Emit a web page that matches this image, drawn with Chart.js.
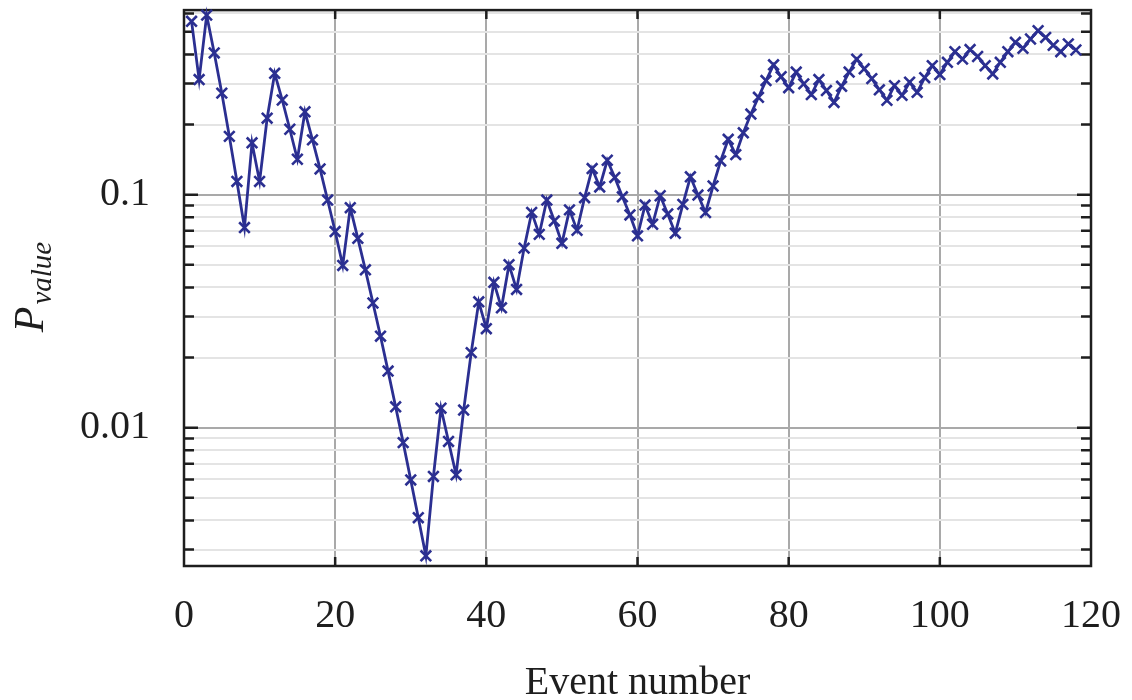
<!DOCTYPE html>
<html>
<head>
<meta charset="utf-8">
<title>P value by event number</title>
<script src="https://cdn.jsdelivr.net/npm/chart.js@4/dist/chart.umd.min.js"></script>
<style>
  html, body { margin: 0; padding: 0; background: #fff; }
  #wrap { width: 1132px; height: 700px; }
</style>
</head>
<body>
<div id="wrap"><canvas id="myChart" width="1132" height="700"></canvas></div>
<script>
// p-value after each event (event 1 .. 118)
const pValues = [
    0.555, 0.312, 0.590, 0.406, 0.273, 0.178, 0.114, 0.0723, 0.167, 0.114,
    0.213, 0.332, 0.255, 0.191, 0.142, 0.227, 0.172, 0.129, 0.0949, 0.0695,
    0.0497, 0.0880, 0.0650, 0.0476, 0.0343, 0.0247, 0.0175, 0.0123, 0.00863, 0.00597,
    0.00411, 0.00282, 0.00618, 0.01213, 0.00873, 0.00628, 0.01191, 0.0210, 0.0347, 0.0266,
    0.0421, 0.0327, 0.0501, 0.0392, 0.0590, 0.0840, 0.0676, 0.0949, 0.0772, 0.0619,
    0.0861, 0.0704, 0.0971, 0.1295, 0.108, 0.1406, 0.1186, 0.098, 0.0819, 0.0666,
    0.0903, 0.0747, 0.0990, 0.0827, 0.0684, 0.0909, 0.1194, 0.0997, 0.0838, 0.109,
    0.1396, 0.173, 0.1486, 0.1844, 0.222, 0.262, 0.309, 0.361, 0.321, 0.288,
    0.336, 0.299, 0.269, 0.312, 0.280, 0.249, 0.292, 0.336, 0.382, 0.347,
    0.315, 0.282, 0.254, 0.294, 0.267, 0.304, 0.275, 0.318, 0.358, 0.328,
    0.370, 0.411, 0.382, 0.420, 0.392, 0.358, 0.330, 0.370, 0.411, 0.451,
    0.425, 0.466, 0.506, 0.473, 0.438, 0.411, 0.444, 0.418
];

const xTicks = [0, 20, 40, 60, 80, 100, 120];
const yTicks = [
    0.003, 0.004, 0.005, 0.006, 0.007, 0.008, 0.009,
    0.01, 0.02, 0.03, 0.04, 0.05, 0.06, 0.07, 0.08, 0.09,
    0.1, 0.2, 0.3, 0.4, 0.5, 0.6
];
const yLabelled = [0.01, 0.1];

const ink = '#1e1e1e';
const lineBlue = 'rgb(43, 47, 145)';
const serif = "'Liberation Serif', 'DejaVu Serif', serif";

// frame round the plot with inward tick marks, plus the two axis titles
const framePlugin = {
    id: 'frame',
    beforeDatasetsDraw(chart) {
        const { ctx, chartArea: a, scales } = chart;
        ctx.save();
        ctx.strokeStyle = ink;
        ctx.lineWidth = 2.5;
        ctx.beginPath();
        xTicks.slice(1, -1).forEach(function (v) {
            const px = scales.x.getPixelForValue(v);
            ctx.moveTo(px, a.bottom);
            ctx.lineTo(px, a.bottom - 9);
            ctx.moveTo(px, a.top);
            ctx.lineTo(px, a.top + 9);
        });
        yTicks.forEach(function (v) {
            const py = scales.y.getPixelForValue(v);
            const len = yLabelled.includes(v) ? 14 : 10;
            ctx.moveTo(a.left, py);
            ctx.lineTo(a.left + len, py);
            ctx.moveTo(a.right, py);
            ctx.lineTo(a.right - len, py);
        });
        ctx.stroke();
        ctx.strokeRect(a.left, a.top, a.right - a.left, a.bottom - a.top);
        ctx.restore();
    },
    afterDraw(chart) {
        const { ctx, chartArea: a } = chart;
        ctx.save();
        ctx.fillStyle = ink;

        // x title
        ctx.font = '40px ' + serif;
        ctx.textAlign = 'center';
        ctx.textBaseline = 'alphabetic';
        ctx.fillText('Event number', (a.left + a.right) / 2, 694);

        // y title: italic P with subscript "value"
        const bigFont = 'italic 42px ' + serif;
        const subFont = 'italic 29px ' + serif;
        ctx.font = bigFont;
        const wP = ctx.measureText('P').width;
        ctx.font = subFont;
        const wSub = ctx.measureText('value').width;
        const total = wP + 2 + wSub;
        ctx.translate(43, 287);
        ctx.rotate(-Math.PI / 2);
        ctx.textAlign = 'left';
        ctx.font = bigFont;
        ctx.fillText('P', -total / 2, 0);
        ctx.font = subFont;
        ctx.fillText('value', -total / 2 + wP + 2, 8);
        ctx.restore();
    }
};

const ctx = document.getElementById('myChart');

new Chart(ctx, {
    type: 'line',
    data: {
        datasets: [{
            label: 'P value',
            data: pValues.map(function (p, i) { return { x: i + 1, y: p }; }),
            borderColor: lineBlue,
            backgroundColor: lineBlue,
            borderWidth: 2.8,
            pointStyle: 'crossRot',
            pointRadius: 7.5,
            pointBorderWidth: 2.6,
            pointBorderColor: lineBlue,
            tension: 0,
            clip: false
        }]
    },
    options: {
        responsive: false,
        animation: false,
        devicePixelRatio: 1,
        layout: { padding: { left: 0, top: 7, right: 41, bottom: 0 } },
        plugins: {
            legend: { display: false },
            tooltip: { enabled: false },
            title: { display: false }
        },
        scales: {
            x: {
                type: 'linear',
                min: 0,
                max: 120,
                afterBuildTicks: function (scale) {
                    scale.ticks = xTicks.map(function (v) { return { value: v }; });
                },
                afterFit: function (scale) {
                    scale.height = 134;
                    scale.paddingLeft = 0;
                    scale.paddingRight = 0;
                },
                border: { display: false },
                grid: {
                    drawTicks: false,
                    lineWidth: 2,
                    color: function (c) {
                        return c.tick && c.tick.value > 0 && c.tick.value < 120 ? '#a9a9a9' : 'rgba(0,0,0,0)';
                    }
                },
                ticks: {
                    padding: 26,
                    color: ink,
                    maxRotation: 0,
                    autoSkip: false,
                    font: { family: serif, size: 40 },
                    callback: function (v) { return String(v); }
                }
            },
            y: {
                type: 'logarithmic',
                min: 0.00255,
                max: 0.62,
                afterBuildTicks: function (scale) {
                    scale.ticks = yTicks.map(function (v) { return { value: v }; });
                },
                afterFit: function (scale) {
                    scale.width = 184;
                    scale.paddingTop = 0;
                    scale.paddingBottom = 0;
                },
                border: { display: false },
                grid: {
                    drawTicks: false,
                    lineWidth: 2,
                    color: function (c) {
                        return c.tick && yLabelled.includes(c.tick.value) ? '#a9a9a9' : '#e4e4e4';
                    }
                },
                ticks: {
                    padding: 34,
                    color: ink,
                    autoSkip: false,
                    font: { family: serif, size: 40 },
                    callback: function (v) { return yLabelled.includes(v) ? String(v) : ''; }
                }
            }
        }
    },
    plugins: [framePlugin]
});
</script>
</body>
</html>
